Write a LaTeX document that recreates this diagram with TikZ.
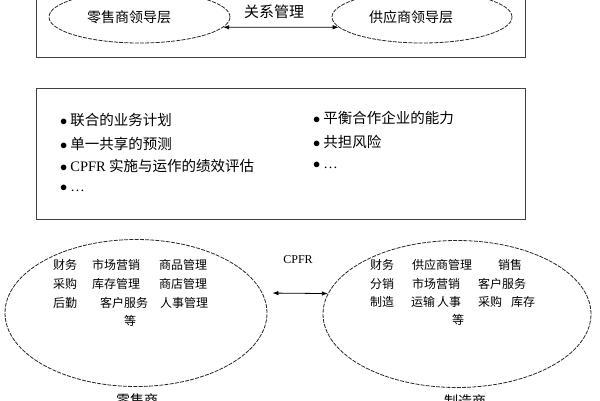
\documentclass[tikz,border=0pt]{standalone}
\usepackage{fontspec}
\setmainfont{Liberation Serif}
\newfontfamily\cjk{Noto Sans CJK SC}
\usetikzlibrary{shapes.geometric,arrows.meta}

\tikzset{
	oval/.style={draw=black!85,ellipse,inner sep=0pt,dash pattern=on 4pt off 1.2pt,line width=0.8pt},
	frame/.style={draw=black!75,line width=1pt,inner sep=0pt},
	link/.style={{Latex[length=6pt,width=4.5pt]}-{Latex[length=6pt,width=4.5pt]},line width=0.8pt},
	word/.style={inner sep=0pt,anchor=west,font=\fontsize{12}{12}\selectfont\cjk}
}

\begin{document}
\begin{tikzpicture}[x=1pt,y=-1pt]
		\useasboundingbox (0,0) rectangle (600,400);
		% leadership
		\node[frame,minimum width=489pt,minimum height=62pt] (lead) at (280.5,26) {};
		\node[oval,minimum width=181pt,minimum height=52pt] (ltop) at (139.5,17) {};
		\node[oval,minimum width=180pt,minimum height=52pt] (rtop) at (422,17) {};
		\node[font=\fontsize{14}{14}\selectfont\cjk] (lname) at (129,17) {零售商领导层};
		\node[font=\fontsize{14}{14}\selectfont\cjk] (rname) at (411,17) {供应商领导层};
		\draw[link] (ltop.-7) -- (rtop.187);
		\node[font=\fontsize{15}{15}\selectfont\cjk] (rel) at (274,12) {关系管理};
		% joint plan
		\node[frame,minimum width=489pt,minimum height=131pt] (plan) at (280.5,153.5) {};
		\foreach \x/\y/\t in
		{
		60/120/{联合的业务计划},
		60/144/{单一共享的预测},
		60/166/{{\rmfamily CPFR} 实施与运作的绩效评估},
		60/188/{{\rmfamily\ldots}},
		313/118/{平衡合作企业的能力},
		313/142/{共担风险},
		313/165/{{\rmfamily\ldots}}
		}
		\node[anchor=west,inner sep=0pt,font=\fontsize{14.5}{14.5}\selectfont\cjk] (item-\x-\y) at (\x,\y) {$\bullet$\hspace{3pt}\t};
		% partners
		\node[oval,minimum width=262pt,minimum height=147pt] (lbot) at (136,313) {};
		\node[oval,minimum width=268pt,minimum height=147pt] (rbot) at (457,314) {};
		\draw[link,shorten <=10pt] (lbot.9.5) -- (rbot.171);
		\node[font=\fontsize{12}{12}\selectfont] (cpfr) at (298,260) {CPFR};
		\foreach \x/\y/\t in
		{
		53/265/财务, 92/265/市场营销, 159/265/商品管理,
		53/284/采购, 92/284/库存管理, 159/284/商店管理,
		53/303/后勤, 100/303/客户服务, 160/303/人事管理,
		124/321/等,
		370/265/财务, 412/265/供应商管理, 498/265/销售,
		370/284/分销, 412/284/市场营销, 478/284/客户服务,
		370/302/制造, 411/302/运输, 437/302/人事, 478/302/采购, 511/302/库存,
		452/320/等
		}
		\node[word] (w-\x-\y) at (\x,\y) {\t};
		\node[anchor=north,font=\fontsize{14}{14}\selectfont\cjk] (retail) at (137,390) {零售商};
		\node[anchor=north,font=\fontsize{14}{14}\selectfont\cjk] (maker) at (465,391) {制造商};
	\end{tikzpicture}
\end{document}
